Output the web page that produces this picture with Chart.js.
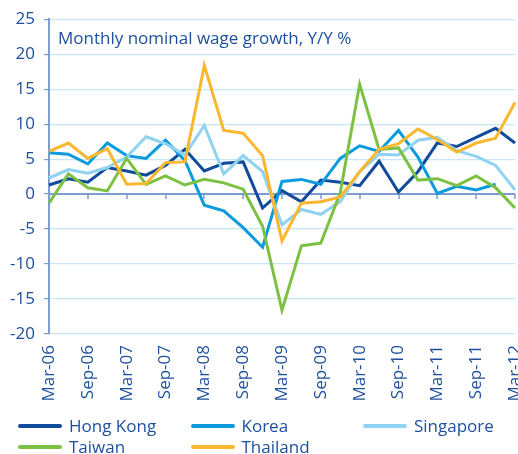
<!DOCTYPE html>
<html>
<head>
<meta charset="utf-8">
<script src="https://cdn.jsdelivr.net/npm/chart.js@4.4.0/dist/chart.umd.min.js"></script>
<style>
  html, body { margin: 0; padding: 0; background: #fff; }
  #wrap { position: relative; width: 518px; height: 454px; overflow: hidden; }
  #chart { position: absolute; left: 0; top: 0; }
  .legend-item {
    position: absolute; display: flex; align-items: center; height: 21px;
    font: 17px "Open Sans", sans-serif; color: #1c4f9e; white-space: nowrap; line-height: 21px;
  }
  .legend-item .swatch { display: inline-block; width: 44px; height: 4px; border-radius: 2px; margin-right: 7px; }
</style>
</head>
<body>
<div id="wrap">
  <canvas id="chart" width="518" height="454"></canvas>
  <div id="legend"></div>
</div>
<script>
// Quarterly wage growth, Y/Y %
const quarters = [
    'Mar-06', 'Jun-06', 'Sep-06', 'Dec-06',
    'Mar-07', 'Jun-07', 'Sep-07', 'Dec-07',
    'Mar-08', 'Jun-08', 'Sep-08', 'Dec-08',
    'Mar-09', 'Jun-09', 'Sep-09', 'Dec-09',
    'Mar-10', 'Jun-10', 'Sep-10', 'Dec-10',
    'Mar-11', 'Jun-11', 'Sep-11', 'Dec-11',
    'Mar-12'
];

const hongKong  = [1.3, 2.2, 1.7, 3.8, 3.3, 2.7, 4.1, 6.4, 3.3, 4.4, 4.6, -2.0, 0.5, -1.1, 2.0, 1.7, 1.2, 4.7, 0.3, 3.2, 7.3, 6.8, 8.1, 9.4, 7.3];
const korea     = [5.9, 5.7, 4.3, 7.3, 5.5, 5.1, 7.7, 4.8, -1.6, -2.4, -4.8, -7.6, 1.8, 2.1, 1.4, 5.1, 6.9, 6.1, 9.1, 5.3, 0.1, 1.1, 0.6, 1.4, null];
const singapore = [2.3, 3.5, 3.0, 3.8, 5.3, 8.2, 7.2, 5.6, 9.8, 2.9, 5.5, 3.2, -4.4, -2.2, -2.9, -1.1, 3.2, 5.7, 5.6, 7.7, 8.1, 6.2, 5.4, 4.1, 0.6];
const taiwan    = [-1.3, 2.9, 0.9, 0.45, 5.1, 1.4, 2.6, 1.3, 2.1, 1.6, 0.7, -4.6, -16.6, -7.4, -7.0, 0.2, 15.7, 6.4, 6.6, 2.0, 2.2, 1.2, 2.6, 0.9, -2.0];
const thailand  = [6.1, 7.3, 5.1, 6.5, 1.4, 1.5, 4.5, 4.6, 18.4, 9.1, 8.7, 5.5, -6.7, -1.3, -1.1, -0.4, 3.2, 6.4, 7.2, 9.3, 7.8, 6.0, 7.3, 8.0, 13.1];

const seriesNames  = ['Hong Kong', 'Korea', 'Singapore', 'Taiwan', 'Thailand'];
const seriesData   = [hongKong, korea, singapore, taiwan, thailand];
const seriesColors = ['#124b9b', '#0a9bdc', '#8fd2f1', '#7dc142', '#fbb72f'];

const titleText = 'Monthly nominal wage growth, Y/Y %';
const textColor = '#1c4f9e';
const axisColor = '#7e9ccf';
const gridColor = '#c6e7f6';
const fontFamily = '"Open Sans", sans-serif';

// zero line with its tick marks, and the title inside the plot
const decorPlugin = {
    id: 'decor',
    beforeDatasetsDraw(chart) {
        const { ctx, chartArea, scales } = chart;
        const y0 = scales.y.getPixelForValue(0);
        ctx.save();
        ctx.strokeStyle = axisColor;
        ctx.lineWidth = 2;
        ctx.beginPath();
        ctx.moveTo(chartArea.left, y0);
        ctx.lineTo(chartArea.right, y0);
        ctx.stroke();
        ctx.lineWidth = 1.5;
        ctx.beginPath();
        quarters.forEach((q, i) => {
            if (i % 2 !== 0) return;
            const px = Math.round(scales.x.getPixelForValue(i));
            ctx.moveTo(px, y0);
            ctx.lineTo(px, y0 + 5);
        });
        ctx.stroke();
        ctx.restore();
    },
    afterDraw(chart) {
        const { ctx, chartArea } = chart;
        ctx.save();
        ctx.fillStyle = textColor;
        ctx.font = '17px ' + fontFamily;
        ctx.textBaseline = 'alphabetic';
        ctx.fillText(titleText, chartArea.left + 9, 44);
        ctx.restore();
    }
};

new Chart(document.getElementById('chart'), {
    type: 'line',
    data: {
        labels: quarters,
        datasets: seriesNames.map((name, i) => ({
            label: name,
            data: seriesData[i],
            borderColor: seriesColors[i],
            backgroundColor: seriesColors[i],
            borderWidth: 3,
            pointRadius: 0,
            tension: 0,
            spanGaps: false,
            order: seriesNames.length - i
        }))
    },
    options: {
        responsive: false,
        devicePixelRatio: 1,
        animation: false,
        layout: { padding: { top: 16, right: 3, left: 0, bottom: 0 } },
        plugins: {
            legend: { display: false },
            tooltip: { enabled: false }
        },
        scales: {
            x: {
                grid: { display: false, drawTicks: false },
                border: { display: false },
                ticks: {
                    autoSkip: false,
                    minRotation: 90,
                    maxRotation: 90,
                    padding: 11,
                    color: textColor,
                    font: { family: fontFamily, size: 17 },
                    callback: (v, i) => (i % 2 === 0 ? quarters[i] : '')
                },
                afterFit(scale) {
                    scale.height = 120;
                    scale.paddingLeft = 0;
                    scale.paddingRight = 0;
                }
            },
            y: {
                min: -20,
                max: 25,
                grid: {
                    color: gridColor,
                    lineWidth: 1.2,
                    drawTicks: true,
                    tickLength: 5,
                    tickColor: axisColor
                },
                border: { color: axisColor, width: 2 },
                ticks: {
                    stepSize: 5,
                    padding: 9,
                    color: textColor,
                    font: { family: fontFamily, size: 17 }
                },
                afterFit(scale) {
                    scale.width = 49;
                }
            }
        }
    },
    plugins: [decorPlugin]
});

// Legend laid out in three fixed columns, two rows
const legendEl = document.getElementById('legend');
seriesNames.forEach((name, i) => {
    const item = document.createElement('div');
    item.className = 'legend-item';
    item.style.left = (18 + (i % 3) * 172.5) + 'px';
    item.style.top = (415 + Math.floor(i / 3) * 21) + 'px';
    item.innerHTML = '<span class="swatch" style="background:' + seriesColors[i] + '"></span>' + name;
    legendEl.appendChild(item);
});
</script>
</body>
</html>
